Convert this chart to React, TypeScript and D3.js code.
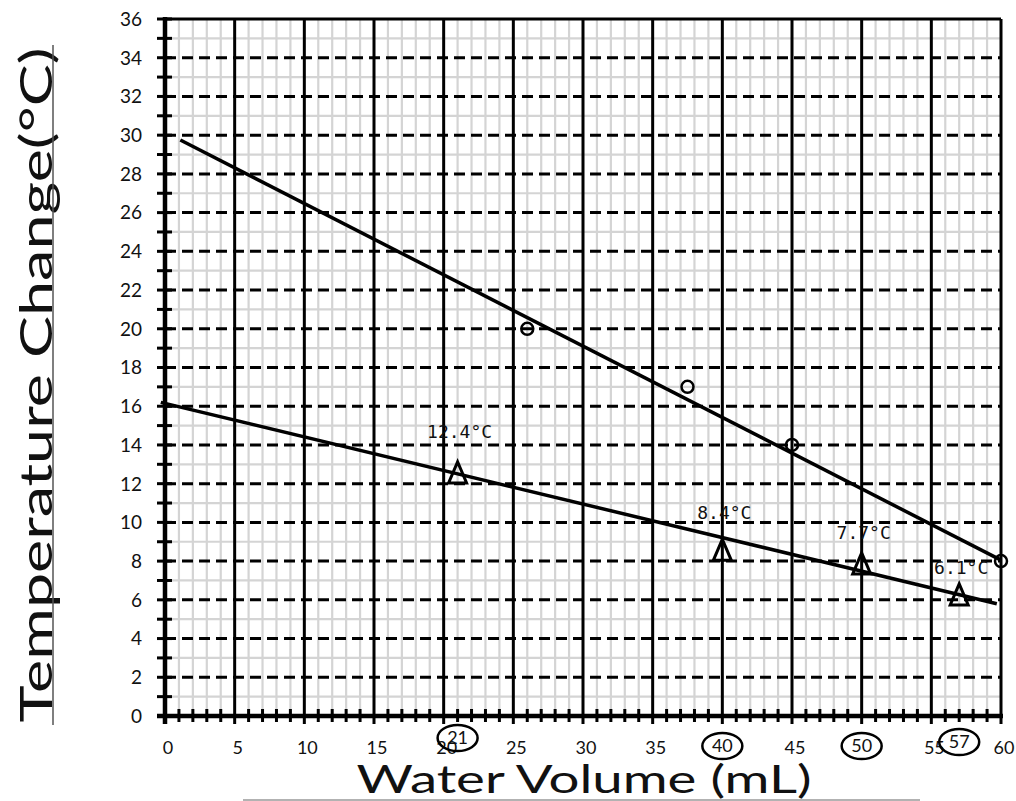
import React from "react";
import * as d3 from "d3";

const circleX = [26, 37.5, 45, 60];
const circleY = [20, 17, 14, 8];
const triX = [21, 40, 50, 57];
const triY = [12.4, 8.4, 7.7, 6.1];
const triLabels = ["12.4°C", "8.4°C", "7.7°C", "6.1°C"];
const fit1X = [1.1, 60];
const fit1Y = [29.75, 8.05];
const fit2X = [-0.3, 59.7];
const fit2Y = [16.2, 5.8];
const circledX = [21, 40, 50, 57];
const xTickLabels = [0, 5, 10, 15, 20, 25, 30, 35, 45, 55, 60];
const xTicks = d3.range(0, 61, 5);
const yTicks = d3.range(0, 37, 2);
const xMinor = d3.range(0, 61, 1);
const yMinor = d3.range(0, 37, 1);

const labelLift = [44, 41, 34, 30];
const circledY = [738, 746, 746, 742];

export default function App() {
  const W = 1016, H = 801;
  const x = d3.scaleLinear().domain([0, 60]).range([165, 1001]);
  const y = d3.scaleLinear().domain([0, 36]).range([716, 19]);
  const line = d3.line<[number, number]>().x(d => x(d[0])).y(d => y(d[1]));
  const fit1 = line(fit1X.map((v, i) => [v, fit1Y[i]]) as [number, number][]) || "";
  const fit2 = line(fit2X.map((v, i) => [v, fit2Y[i]]) as [number, number][]) || "";
  const tickFont = "Lato, 'Open Sans', sans-serif";

  return (
    <svg width={W} height={H} style={{ position: "absolute", left: 0, top: 0, background: "#fff" }}>
      <rect x={0} y={0} width={W} height={H} fill="#fff" />
      {/* light grid */}
      {xMinor.filter(v => v % 5 !== 0).map(v => (
        <line key={"gx" + v} x1={x(v)} x2={x(v)} y1={y(36)} y2={y(0)} stroke="#d4d4d4" strokeWidth={2.2} />
      ))}
      {yMinor.filter(v => v % 2 !== 0).map(v => (
        <line key={"gy" + v} x1={x(0)} x2={x(60)} y1={y(v)} y2={y(v)} stroke="#d4d4d4" strokeWidth={2.2} />
      ))}
      {/* dashed horizontal major */}
      {yTicks.filter(v => v > 0 && v < 36).map(v => (
        <line key={"hy" + v} x1={x(0)} x2={x(60)} y1={y(v)} y2={y(v)} stroke="#000" strokeWidth={3} strokeDasharray="11,6" />
      ))}
      <line x1={x(0)} x2={x(60)} y1={y(36)} y2={y(36)} stroke="#000" strokeWidth={3} />
      {/* vertical major */}
      {xTicks.filter(v => v > 0).map(v => (
        <line key={"vx" + v} x1={x(v)} x2={x(v)} y1={y(36)} y2={y(0) + 8} stroke="#000" strokeWidth={3} />
      ))}
      {/* x minor ticks */}
      {xMinor.filter(v => v % 5 !== 0).map(v => (
        <line key={"tx" + v} x1={x(v)} x2={x(v)} y1={y(0) - 7} y2={y(0) + 6} stroke="#000" strokeWidth={3} />
      ))}
      {/* y ticks */}
      {yMinor.map(v => (
        <line key={"ty" + v} x1={x(0) - 8} x2={x(0) + 7} y1={y(v)} y2={y(v)} stroke="#000" strokeWidth={3} />
      ))}
      {/* axes */}
      <line x1={x(0)} x2={x(0)} y1={y(36) - 2} y2={y(0) + 8} stroke="#000" strokeWidth={4.5} />
      <line x1={x(0) - 8} x2={x(60) + 2} y1={y(0)} y2={y(0)} stroke="#000" strokeWidth={4.5} />

      {/* y tick labels */}
      {yTicks.map(v => (
        <text key={"ly" + v} x={142} y={y(v)} dy="0.36em" textAnchor="end" fontFamily={tickFont} fontSize={19} fill="#111">{v}</text>
      ))}
      {/* x tick labels */}
      {xTickLabels.map(v => (
        <text key={"lx" + v} x={x(v) + 3} y={754} textAnchor="middle" fontFamily={tickFont} fontSize={18} fill="#111">{v}</text>
      ))}
      {/* circled values */}
      {circledX.map((v, i) => (
        <g key={"c" + v}>
          <ellipse cx={x(v)} cy={circledY[i]} rx={20} ry={13} fill="none" stroke="#000" strokeWidth={2.5} />
          <text x={x(v)} y={circledY[i]} dy="0.36em" textAnchor="middle" fontFamily={tickFont} fontSize={18} fill="#111">{v}</text>
        </g>
      ))}

      {/* fit lines */}
      <path d={fit1} stroke="#000" strokeWidth={3.5} fill="none" />
      <path d={fit2} stroke="#000" strokeWidth={3.5} fill="none" />

      {/* circle points */}
      {circleX.map((v, i) => (
        <circle key={"p" + i} cx={x(v)} cy={y(circleY[i])} r={6} fill="none" stroke="#000" strokeWidth={2.5} />
      ))}
      {/* triangle points */}
      {triX.map((v, i) => {
        const cx = x(v), cy = y(triY[i]);
        return (
          <g key={"t" + i}>
            <path d={`M${cx},${cy - 14}L${cx + 9},${cy + 7}L${cx - 9},${cy + 7}Z`} fill="none" stroke="#000" strokeWidth={3} strokeLinejoin="miter" />
            <text x={cx + 2} y={cy - labelLift[i]} dy="0.36em" textAnchor="middle" fontFamily="'DejaVu Sans Mono', monospace" fontSize={18} fill="#111">{triLabels[i]}</text>
          </g>
        );
      })}

      {/* axis titles */}
      <text transform={`translate(52,385) rotate(-90)`} textAnchor="middle" fontFamily="Lato, 'Open Sans', sans-serif" fontSize={44} textLength={675} lengthAdjust="spacingAndGlyphs" fill="#111">Temperature Change(°C)</text>
      <line x1={53} x2={53} y1={45} y2={725} stroke="#555" strokeWidth={1.5} />
      <text x={584} y={793} textAnchor="middle" fontFamily="Lato, 'Open Sans', sans-serif" fontSize={38} textLength={455} lengthAdjust="spacingAndGlyphs" fill="#111">Water Volume (mL)</text>
      <line x1={243} x2={920} y1={800} y2={800} stroke="#999" strokeWidth={1.5} />
    </svg>
  );
}
